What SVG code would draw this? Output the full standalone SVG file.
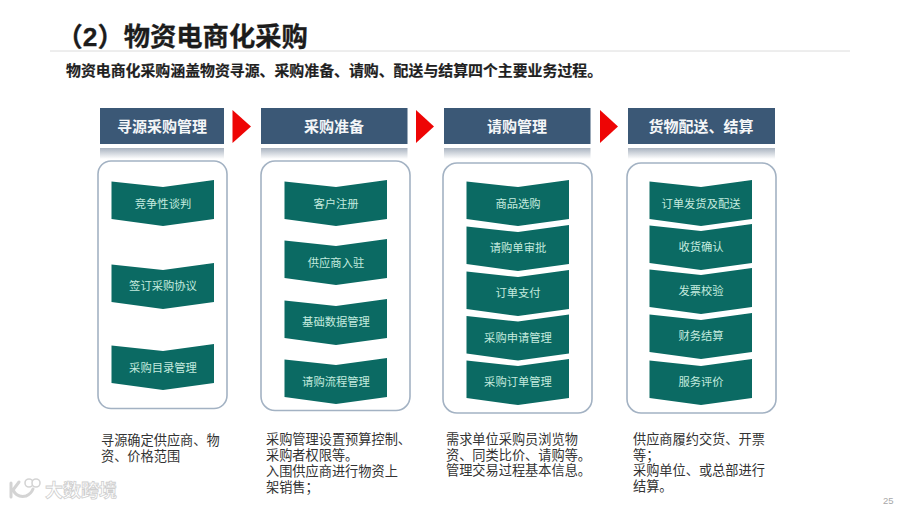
<svg xmlns="http://www.w3.org/2000/svg" xmlns:xlink="http://www.w3.org/1999/xlink" width="900" height="507" viewBox="0 0 900 507">
<style>
text{font-family:"Liberation Sans","Noto Sans CJK SC",sans-serif}
.title{font-size:26.300px;font-weight:700;fill:#1c1c1c;stroke:#1c1c1c;stroke-width:.3}
.sub{font-size:14.900px;font-weight:700;fill:#1f1f1f;stroke:#1f1f1f;stroke-width:.2}
.hd{fill:#3b5876}
.refl{fill:url(#refl)}
.hdt{font-size:15px;font-weight:700;fill:#f4f6f8;text-anchor:middle}
.frame{fill:#fff;stroke:#a3b2c3;stroke-width:1.6}
.chev{fill:#0b6a63}
.ct{font-size:11.3px;fill:#c4eadf;text-anchor:middle}
.desc{font-size:13.2px;fill:#333}
.arrow{fill:#ee0505}
.wm{font-size:18px;font-weight:700;fill:#fff;stroke:#cfcfcf;stroke-width:.8}
.wmi{fill:none;stroke:#d4d4d4;stroke-width:3;stroke-linecap:round}
.wmc{fill:#fff;stroke:#d4d4d4;stroke-width:1.6}
.pg{font-size:9.5px;fill:#a8a8a8}
</style>
<defs>
<linearGradient id="refl" x1="0" y1="0" x2="0" y2="1"><stop offset="0" stop-color="#a9b3c0"/><stop offset="1" stop-color="#fff"/></linearGradient>
<polygon id="chev" points="0,1.5 51.5,7 102.5,0 102.5,39 51.5,46 0,39"/>
</defs>
<rect width="900" height="507" fill="#fff"/>
<g id="header">
<line x1="50" y1="51" x2="850" y2="51" stroke="#dcdcdc" stroke-width="1"/>
<text class="title" x="56.500" y="46">（2）物资电商化采购</text>
<text class="sub" x="66" y="76">物资电商化采购涵盖物资寻源、采购准备、请购、配送与结算四个主要业务过程。</text>
</g>
<g id="connectors">
<polygon class="arrow" points="232.5,110 251,126.500 232.500,143"/>
<polygon class="arrow" points="416,110 434,126.500 416,143"/>
<polygon class="arrow" points="600,110 618,126.500 600,143"/>
</g>
<g id="col1">
<rect class="refl" x="100" y="148" width="124" height="11"/>
<rect class="hd" x="100" y="108" width="124" height="36"/>
<text class="hdt" x="162" y="132">寻源采购管理</text>
<rect class="frame" x="98" y="161" width="129" height="247.500" rx="13"/>
</g>
<g id="col1-n1"><use href="#chev" class="chev" x="111.500" y="180"/><text class="ct" x="163" y="208">竞争性谈判</text></g>
<g id="col1-n2"><use href="#chev" class="chev" x="111.500" y="263"/><text class="ct" x="163" y="290">签订采购协议</text></g>
<g id="col1-n3"><use href="#chev" class="chev" x="111.500" y="344"/><text class="ct" x="163" y="372">采购目录管理</text></g>
<g id="col2">
<rect class="refl" x="261" y="148" width="146.500" height="11"/>
<rect class="hd" x="261" y="108" width="146.500" height="36"/>
<text class="hdt" x="334" y="132">采购准备</text>
<rect class="frame" x="261" y="161" width="149" height="249.500" rx="14"/>
</g>
<g id="col2-n1"><use href="#chev" class="chev" x="284.500" y="180"/><text class="ct" x="336" y="208">客户注册</text></g>
<g id="col2-n2"><use href="#chev" class="chev" x="284.500" y="239"/><text class="ct" x="336" y="267">供应商入驻</text></g>
<g id="col2-n3"><use href="#chev" class="chev" x="284.500" y="299"/><text class="ct" x="336" y="326">基础数据管理</text></g>
<g id="col2-n4"><use href="#chev" class="chev" x="284.500" y="358"/><text class="ct" x="336" y="386">请购流程管理</text></g>
<g id="col3">
<rect class="refl" x="444" y="148" width="146.500" height="11"/>
<rect class="hd" x="444" y="108" width="146.500" height="36"/>
<text class="hdt" x="517" y="132">请购管理</text>
<rect class="frame" x="443" y="163" width="149" height="250" rx="14"/>
</g>
<g id="col3-n1"><use href="#chev" class="chev" x="466.500" y="180"/><text class="ct" x="518" y="208">商品选购</text></g>
<g id="col3-n2"><use href="#chev" class="chev" x="466.500" y="225"/><text class="ct" x="518" y="252">请购单审批</text></g>
<g id="col3-n3"><use href="#chev" class="chev" x="466.500" y="270"/><text class="ct" x="518" y="297">订单支付</text></g>
<g id="col3-n4"><use href="#chev" class="chev" x="466.500" y="314.500"/><text class="ct" x="518" y="342">采购申请管理</text></g>
<g id="col3-n5"><use href="#chev" class="chev" x="466.500" y="359"/><text class="ct" x="518" y="386">采购订单管理</text></g>
<g id="col4">
<rect class="refl" x="628" y="148" width="147" height="11"/>
<rect class="hd" x="628" y="108" width="147" height="36"/>
<text class="hdt" x="701" y="132">货物配送、结算</text>
<rect class="frame" x="627" y="163" width="149" height="250" rx="14"/>
</g>
<g id="col4-n1"><use href="#chev" class="chev" x="649.500" y="180"/><text class="ct" x="701" y="208">订单发货及配送</text></g>
<g id="col4-n2"><use href="#chev" class="chev" x="649.500" y="224"/><text class="ct" x="701" y="251">收货确认</text></g>
<g id="col4-n3"><use href="#chev" class="chev" x="649.500" y="268"/><text class="ct" x="701" y="295">发票校验</text></g>
<g id="col4-n4"><use href="#chev" class="chev" x="649.500" y="313"/><text class="ct" x="701" y="340">财务结算</text></g>
<g id="col4-n5"><use href="#chev" class="chev" x="649.500" y="359"/><text class="ct" x="701" y="386">服务评价</text></g>
<g id="descriptions">
<text class="desc" x="101" y="445">寻源确定供应商、物</text>
<text class="desc" x="101" y="461">资、价格范围</text>
<text class="desc" x="266" y="444">采购管理设置预算控制、</text>
<text class="desc" x="266" y="460">采购者权限等。</text>
<text class="desc" x="266" y="476">入围供应商进行物资上</text>
<text class="desc" x="266" y="492">架销售；</text>
<text class="desc" x="446" y="444">需求单位采购员浏览物</text>
<text class="desc" x="446" y="460">资、同类比价、请购等。</text>
<text class="desc" x="446" y="475">管理交易过程基本信息。</text>
<text class="desc" x="633" y="444">供应商履约交货、开票</text>
<text class="desc" x="633" y="460">等；</text>
<text class="desc" x="633" y="475">采购单位、或总部进行</text>
<text class="desc" x="633" y="491">结算。</text>
</g>
<g id="watermark">
<path class="wmi" d="M11 483V497M19 482L13 490Q17 498 26 496Q31 494 33 489"/>
<circle class="wmc" cx="29" cy="483" r="4"/>
<circle class="wmc" cx="36" cy="483" r="4"/>
<text class="wm" x="45" y="497">大数跨境</text>
</g>
<text class="pg" x="883" y="504">25</text>
</svg>
